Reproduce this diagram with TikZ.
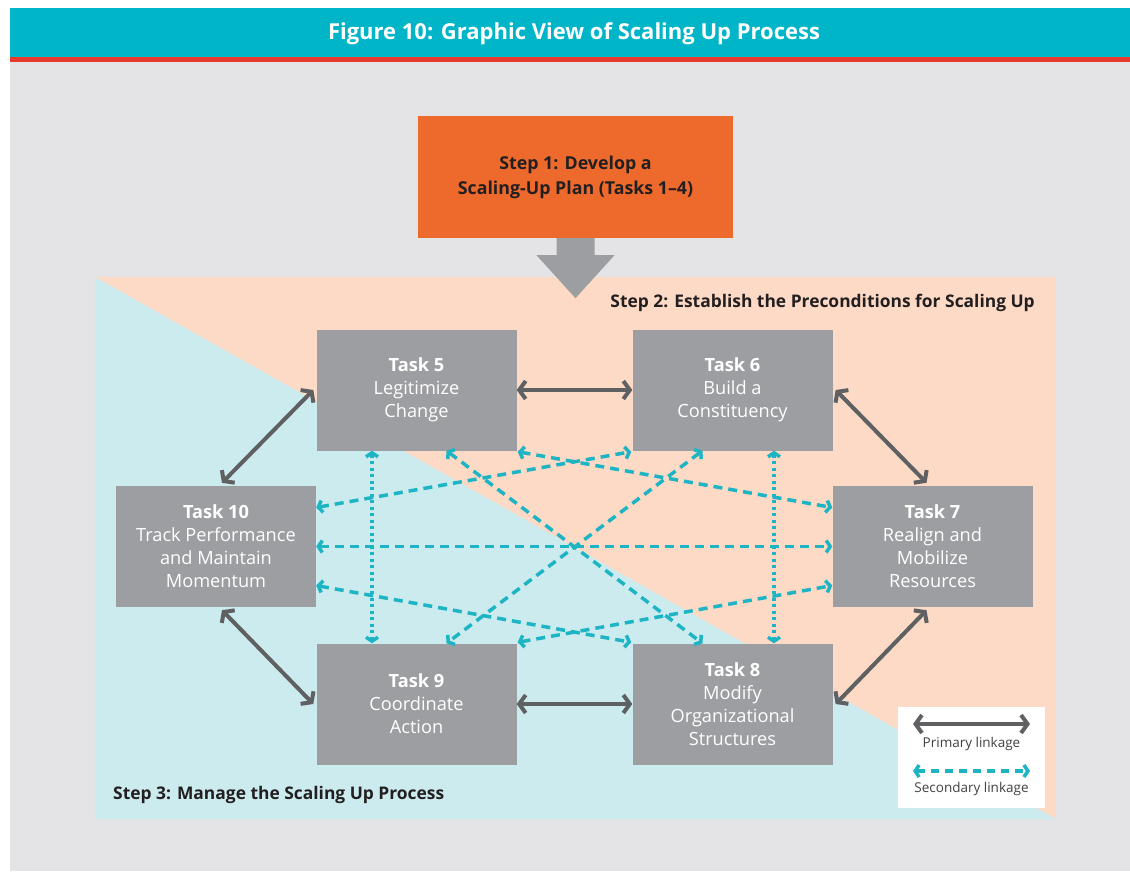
\documentclass[tikz,border=0pt]{standalone}
\usepackage{fontspec}
\setmainfont{Open Sans}
\usetikzlibrary{arrows.meta}
\definecolor{bgray}{HTML}{E4E4E6}
\definecolor{headteal}{HTML}{00B5C8}
\definecolor{headred}{HTML}{E63A2E}
\definecolor{orangebox}{HTML}{EE6A2C}
\definecolor{peach}{HTML}{FDDAC6}
\definecolor{lblue}{HTML}{CCEBEF}
\definecolor{boxgray}{HTML}{9D9EA2}
\definecolor{pgray}{HTML}{5F6062}
\definecolor{secteal}{HTML}{1DB4C3}
\definecolor{txtdark}{HTML}{231F20}
\tikzset{
  taskbox/.style={fill=boxgray, minimum width=200, minimum height=121, inner sep=0pt,
    text=white, align=center, font=\fontsize{18.2}{23}\selectfont},
  prim/.style={draw=pgray, line width=4pt,
    {Straight Barb[length=6.5pt,width=18pt]}-{Straight Barb[length=6.5pt,width=18pt]}},
  sec/.style={draw=secteal, line width=3.5pt, dash pattern=on 9pt off 6pt,
    {Straight Barb[length=4pt,width=12pt,line width=3.5pt]}-{Straight Barb[length=4pt,width=12pt,line width=3.5pt]}},
  secdot/.style={sec, dash pattern=on 3pt off 3.5pt},
  steplabel/.style={text=txtdark, font=\fontsize{17.4}{20}\selectfont\bfseries, inner sep=0pt},
  legtext/.style={text=txtdark!85, font=\fontsize{13.5}{15}\selectfont, inner sep=0pt}
}
\begin{document}
\begin{tikzpicture}[x=1pt,y=-1pt]
\useasboundingbox (0,0) rectangle (1130,871);
\fill[white] (0,0) rectangle (1130,871);
\fill[bgray] (10,62) rectangle (1130,871);
\fill[headteal] (10,8) rectangle (1130,57);
\fill[headred] (10,57) rectangle (1130,62);
\node[text=white, font=\fontsize{22}{25}\selectfont\bfseries] (title) at (574,34) {Figure 10: Graphic View of Scaling Up Process};

% panel
\fill[peach] (95,277) rectangle (1056,819);
\fill[lblue] (95,277) -- (1056,819) -- (95,819) -- cycle;

% step 1
\node[fill=orangebox, minimum width=315, minimum height=122, inner sep=0pt, align=center,
  text=txtdark, font=\fontsize{17.8}{25}\selectfont\bfseries] (s1) at (575.5,177)
  {Step 1: Develop a\\Scaling-Up Plan (Tasks 1–4)};
\fill[boxgray] (s1.south) ++(-19,0) -- ++(38,0) -- ++(0,17) -- ++(20,0) -- ++(-39,43) -- ++(-39,-43) -- ++(20,0) -- cycle;

\node[steplabel, anchor=east] (step2) at (1035,303) {Step 2: Establish the Preconditions for Scaling Up};
\node[steplabel, anchor=west] (step3) at (113,795) {Step 3: Manage the Scaling Up Process};

% tasks
\node[taskbox] (t5) at (416.5,390) {\textbf{Task 5}\\Legitimize\\Change};
\node[taskbox] (t6) at (732.5,390) {\textbf{Task 6}\\Build a\\Constituency};
\node[taskbox] (t10) at (216,546.5) {\textbf{Task 10}\\Track Performance\\and Maintain\\Momentum};
\node[taskbox] (t7) at (932.5,546.5) {\textbf{Task 7}\\Realign and\\Mobilize\\Resources};
\node[taskbox] (t9) at (416.5,704) {\textbf{Task 9}\\Coordinate\\Action};
\node[taskbox] (t8) at (732.5,704) {\textbf{Task 8}\\Modify\\Organizational\\Structures};

% secondary linkages
\draw[sec] (t10.east) -- (t7.west);
\draw[sec] ([yshift=39pt]t10.east) -- ([xshift=-1pt,yshift=-1pt]t6.south west);
\draw[sec] ([xshift=1pt,yshift=-1pt]t5.south east) -- ([yshift=39pt]t7.west);
\draw[sec] ([yshift=-39pt]t10.east) -- ([xshift=-1pt,yshift=1pt]t8.north west);
\draw[sec] ([xshift=1pt,yshift=1pt]t9.north east) -- ([yshift=-39pt]t7.west);
\draw[sec] ([xshift=30pt]t5.south) -- ([xshift=-30pt]t8.north);
\draw[sec] ([xshift=-30pt]t6.south) -- ([xshift=30pt]t9.north);
\draw[secdot] ([xshift=-44.5pt]t5.south) -- ([xshift=-44.5pt]t9.north);
\draw[secdot] ([xshift=41.5pt]t6.south) -- ([xshift=41.5pt]t8.north);

% primary linkages
\draw[prim] (t5.east) -- (t6.west);
\draw[prim] (t9.east) -- (t8.west);
\draw[prim] ([xshift=-3pt]t5.west) -- ([xshift=6pt,yshift=3pt]t10.north);
\draw[prim] ([xshift=3pt]t6.east) -- ([xshift=-6pt,yshift=3pt]t7.north);
\draw[prim] ([xshift=6pt,yshift=-3pt]t10.south) -- ([xshift=-3pt]t9.west);
\draw[prim] ([xshift=-6pt,yshift=-3pt]t7.south) -- ([xshift=3pt]t8.east);

% legend
\node[fill=white, minimum width=147, minimum height=101, inner sep=0pt] (leg) at (971.5,757.5) {};
\coordinate (lpa) at (913,724);
\coordinate (lpb) at (1030,724);
\coordinate (lsa) at (913,771);
\coordinate (lsb) at (1030,771);
\draw[prim] (lpa) -- (lpb);
\draw[sec, dash pattern=on 8pt off 6pt] (lsa) -- (lsb);
\node[legtext] (lp) at (971.5,744) {Primary linkage};
\node[legtext] (ls) at (971.5,789) {Secondary linkage};
\end{tikzpicture}
\end{document}
